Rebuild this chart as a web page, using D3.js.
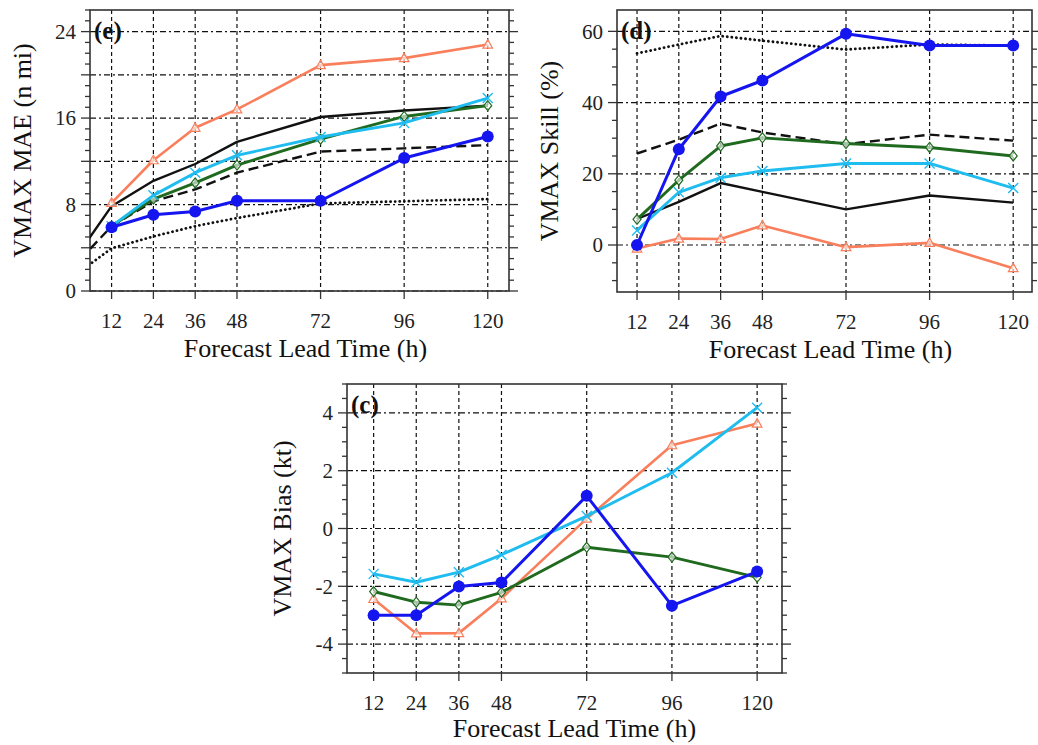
<!DOCTYPE html>
<html>
<head>
<meta charset="utf-8">
<script src="https://cdn.jsdelivr.net/npm/d3@7"></script>
<style>
  html, body { margin: 0; padding: 0; background: #fff; }
  svg { display: block; font-family: "Liberation Serif", "Times New Roman", serif; }
</style>
</head>
<body>
<svg id="chart" width="1038" height="745"></svg>
<script>
// lead times (h)
const leads = [12, 24, 36, 48, 72, 96, 120];
const leadsFrom0 = [0, 12, 24, 36, 48, 72, 96, 120];

// (e) VMAX MAE
const maeOrange = [8.15, 12.1, 15.1, 16.8, 20.9, 21.55, 22.8];
const maeCyan = [6.0, 8.85, 10.95, 12.55, 14.25, 15.55, 17.85];
const maeGreen = [6.0, 8.5, 10.0, 11.65, 14.05, 16.15, 17.15];
const maeBlue = [5.9, 7.05, 7.35, 8.35, 8.35, 12.3, 14.3];
const maeBlackSolid = [2.3, 7.85, 10.2, 11.75, 13.8, 16.1, 16.7, 17.15];
const maeBlackDashed = [1.9, 6.0, 8.3, 9.4, 10.95, 12.9, 13.2, 13.5];
const maeBlackDotted = [1.1, 3.95, 5.05, 6.0, 6.75, 8.1, 8.3, 8.5];

// (d) VMAX skill
const skillOrange = [-1.0, 1.8, 1.7, 5.5, -0.6, 0.6, -6.5];
const skillCyan = [4.1, 14.8, 18.9, 20.8, 22.9, 22.9, 16.0];
const skillGreen = [7.2, 18.2, 27.8, 30.1, 28.5, 27.4, 25.0];
const skillBlue = [0, 26.9, 41.7, 46.2, 59.3, 56.0, 56.0];
const skillBlackSolid = [7.3, 12.1, 17.4, 14.9, 10.0, 13.9, 11.9];
const skillBlackDashed = [25.7, 29.6, 34.1, 31.6, 28.3, 31.0, 29.3];
const skillBlackDotted = [53.8, 56.3, 58.7, 57.4, 54.9, 56.3, 56.0];

// (c) VMAX bias
const biasOrange = [-2.44, -3.63, -3.62, -2.42, 0.34, 2.88, 3.63];
const biasCyan = [-1.57, -1.86, -1.51, -0.91, 0.43, 1.93, 4.18];
const biasGreen = [-2.18, -2.55, -2.65, -2.21, -0.65, -0.99, -1.69];
const biasBlue = [-3.0, -3.0, -2.01, -1.87, 1.13, -2.67, -1.49];

const ORANGE = "#f97f5c", CYAN = "#1fbcf0", GREEN = "#1f6a1f", BLUE = "#1515ef";

const styles = {
  orange: { color: ORANGE, width: 2.6, marker: "triangle" },
  cyan: { color: CYAN, width: 2.9, marker: "cross" },
  green: { color: GREEN, width: 2.9, marker: "diamond" },
  blue: { color: BLUE, width: 3, marker: "circle" },
  solid: { color: "#111", width: 2.4 },
  dashed: { color: "#111", width: 2.4, dash: "10,5" },
  dotted: { color: "#111", width: 2.8, dash: "0.1,4.5", cap: "round" }
};

const svg = d3.select("#chart");

function drawPanel(cfg) {
  const g = svg.append("g");
  const x = d3.scaleLinear().domain(cfg.xDomain).range([cfg.left, cfg.right]);
  const y = d3.scaleLinear().domain(cfg.yDomain).range([cfg.bottom, cfg.top]);
  const clipId = "clip-" + cfg.id;

  g.append("clipPath").attr("id", clipId)
    .append("rect")
    .attr("x", cfg.left).attr("y", cfg.top)
    .attr("width", cfg.right - cfg.left).attr("height", cfg.bottom - cfg.top);

  // grid
  g.selectAll(".vgrid").data(leads).enter().append("line")
    .attr("x1", d => x(d)).attr("x2", d => x(d))
    .attr("y1", cfg.top).attr("y2", cfg.bottom)
    .attr("stroke", "#111").attr("stroke-width", 1.2)
    .attr("stroke-dasharray", "4,3");
  g.selectAll(".hgrid").data(cfg.gridVals).enter().append("line")
    .attr("x1", cfg.left).attr("x2", cfg.right)
    .attr("y1", d => y(d)).attr("y2", d => y(d))
    .attr("stroke", "#111").attr("stroke-width", 1.2)
    .attr("stroke-dasharray", "6,3,2,3");

  // y ticks, left and right, outward
  const minor = d3.range(cfg.yDomain[0], cfg.yDomain[1] + 1e-9, cfg.minorStep)
    .map(v => Math.round(v / cfg.minorStep) * cfg.minorStep)
    .filter(v => v >= cfg.yDomain[0] && v <= cfg.yDomain[1]);
  const isMajor = v => cfg.gridVals.some(m => Math.abs(m - v) < 1e-6);
  [[cfg.left, -1], [cfg.right, 1]].forEach(([x0, dir]) => {
    g.selectAll(null).data(minor).enter().append("line")
      .attr("x1", x0).attr("x2", d => x0 + dir * (isMajor(d) ? 9 : 5))
      .attr("y1", d => y(d)).attr("y2", d => y(d))
      .attr("stroke", "#333").attr("stroke-width", 1.3);
  });

  // x ticks, bottom outward
  g.selectAll(null).data(leads).enter().append("line")
    .attr("x1", d => x(d)).attr("x2", d => x(d))
    .attr("y1", cfg.bottom).attr("y2", cfg.bottom + 8)
    .attr("stroke", "#333").attr("stroke-width", 1.3);

  // frame
  g.append("rect")
    .attr("x", cfg.left).attr("y", cfg.top)
    .attr("width", cfg.right - cfg.left).attr("height", cfg.bottom - cfg.top)
    .attr("fill", "none").attr("stroke", "#333").attr("stroke-width", 1.6);

  // tick labels
  g.selectAll(null).data(leads).enter().append("text")
    .attr("x", d => x(d)).attr("y", cfg.bottom + 37)
    .attr("text-anchor", "middle").attr("font-size", 21).attr("fill", "#222")
    .text(d => d);
  g.selectAll(null).data(cfg.labelVals).enter().append("text")
    .attr("x", cfg.left - 14).attr("y", d => y(d)).attr("dy", "0.35em")
    .attr("text-anchor", "end").attr("font-size", 21).attr("fill", "#222")
    .text(d => d);

  // axis titles
  g.append("text")
    .attr("x", (cfg.left + cfg.right) / 2 + cfg.xTitleShift).attr("y", cfg.bottom + cfg.xTitleGap)
    .attr("text-anchor", "middle").attr("font-size", 26).attr("fill", "#111")
    .text("Forecast Lead Time (h)");
  g.append("text")
    .attr("transform", `translate(${cfg.yTitleX},${(cfg.top + cfg.bottom) / 2}) rotate(-90)`)
    .attr("text-anchor", "middle").attr("font-size", 26).attr("fill", "#111")
    .text(cfg.yTitle);

  // series
  const plot = g.append("g").attr("clip-path", `url(#${clipId})`);
  const line = d3.line().x(d => x(d[0])).y(d => y(d[1]));
  cfg.series.forEach(s => {
    const st = styles[s.style];
    const pts = s.x.map((v, i) => [v, s.values[i]]);
    plot.append("path").datum(pts)
      .attr("d", line)
      .attr("fill", "none")
      .attr("stroke", st.color)
      .attr("stroke-width", st.width)
      .attr("stroke-dasharray", st.dash || null)
      .attr("stroke-linecap", st.cap || "butt")
      .attr("stroke-linejoin", "round");
    if (!st.marker) return;
    const mk = plot.selectAll(null).data(pts).enter();
    if (st.marker === "circle") {
      mk.append("circle")
        .attr("cx", d => x(d[0])).attr("cy", d => y(d[1])).attr("r", 6)
        .attr("fill", st.color);
    } else if (st.marker === "triangle") {
      mk.append("path")
        .attr("transform", d => `translate(${x(d[0])},${y(d[1])})`)
        .attr("d", "M0,-5L4.8,3.5L-4.8,3.5Z")
        .attr("fill", "#fff").attr("fill-opacity", 0.6)
        .attr("stroke", st.color).attr("stroke-width", 1.2);
    } else if (st.marker === "diamond") {
      mk.append("path")
        .attr("transform", d => `translate(${x(d[0])},${y(d[1])})`)
        .attr("d", "M0,-5L4,0L0,5L-4,0Z")
        .attr("fill", "#fff").attr("fill-opacity", 0.6)
        .attr("stroke", st.color).attr("stroke-width", 1.2);
    } else if (st.marker === "cross") {
      mk.append("path")
        .attr("transform", d => `translate(${x(d[0])},${y(d[1])})`)
        .attr("d", "M-5,-5L5,5M-5,5L5,-5")
        .attr("stroke", st.color).attr("stroke-width", 1.4);
    }
  });

  // panel letter
  g.append("text")
    .attr("x", cfg.left + 4).attr("y", cfg.top + 29)
    .attr("font-size", 25).attr("font-weight", "bold").attr("fill", "#111")
    .text(cfg.letter);
}

drawPanel({
  id: "e", letter: "(e)",
  left: 90, right: 509, top: 10, bottom: 291,
  xDomain: [5.8, 126.1], yDomain: [0, 26],
  gridVals: [0, 4, 8, 12, 16, 20, 24], labelVals: [0, 8, 16, 24], minorStep: 1,
  yTitle: "VMAX MAE (n mi)", yTitleX: 31, xTitleGap: 66, xTitleShift: 6,
  series: [
    { x: leadsFrom0, values: maeBlackDotted, style: "dotted" },
    { x: leadsFrom0, values: maeBlackDashed, style: "dashed" },
    { x: leadsFrom0, values: maeBlackSolid, style: "solid" },
    { x: leads, values: maeOrange, style: "orange" },
    { x: leads, values: maeGreen, style: "green" },
    { x: leads, values: maeCyan, style: "cyan" },
    { x: leads, values: maeBlue, style: "blue" }
  ]
});

drawPanel({
  id: "d", letter: "(d)",
  left: 617, right: 1032, top: 10, bottom: 292,
  xDomain: [6.25, 125.4], yDomain: [-13.2, 66],
  gridVals: [0, 20, 40, 60], labelVals: [0, 20, 40, 60], minorStep: 5,
  yTitle: "VMAX Skill (%)", yTitleX: 558, xTitleGap: 66, xTitleShift: 6,
  series: [
    { x: leads, values: skillBlackDotted, style: "dotted" },
    { x: leads, values: skillBlackDashed, style: "dashed" },
    { x: leads, values: skillBlackSolid, style: "solid" },
    { x: leads, values: skillOrange, style: "orange" },
    { x: leads, values: skillGreen, style: "green" },
    { x: leads, values: skillCyan, style: "cyan" },
    { x: leads, values: skillBlue, style: "blue" }
  ]
});

drawPanel({
  id: "c", letter: "(c)",
  left: 347, right: 782, top: 384, bottom: 673,
  xDomain: [4.5, 127], yDomain: [-5, 5],
  gridVals: [-4, -2, 0, 2, 4], labelVals: [-4, -2, 0, 2, 4], minorStep: 0.5,
  yTitle: "VMAX Bias (kt)", yTitleX: 291, xTitleGap: 64, xTitleShift: 10,
  series: [
    { x: leads, values: biasOrange, style: "orange" },
    { x: leads, values: biasGreen, style: "green" },
    { x: leads, values: biasCyan, style: "cyan" },
    { x: leads, values: biasBlue, style: "blue" }
  ]
});
</script>
</body>
</html>
